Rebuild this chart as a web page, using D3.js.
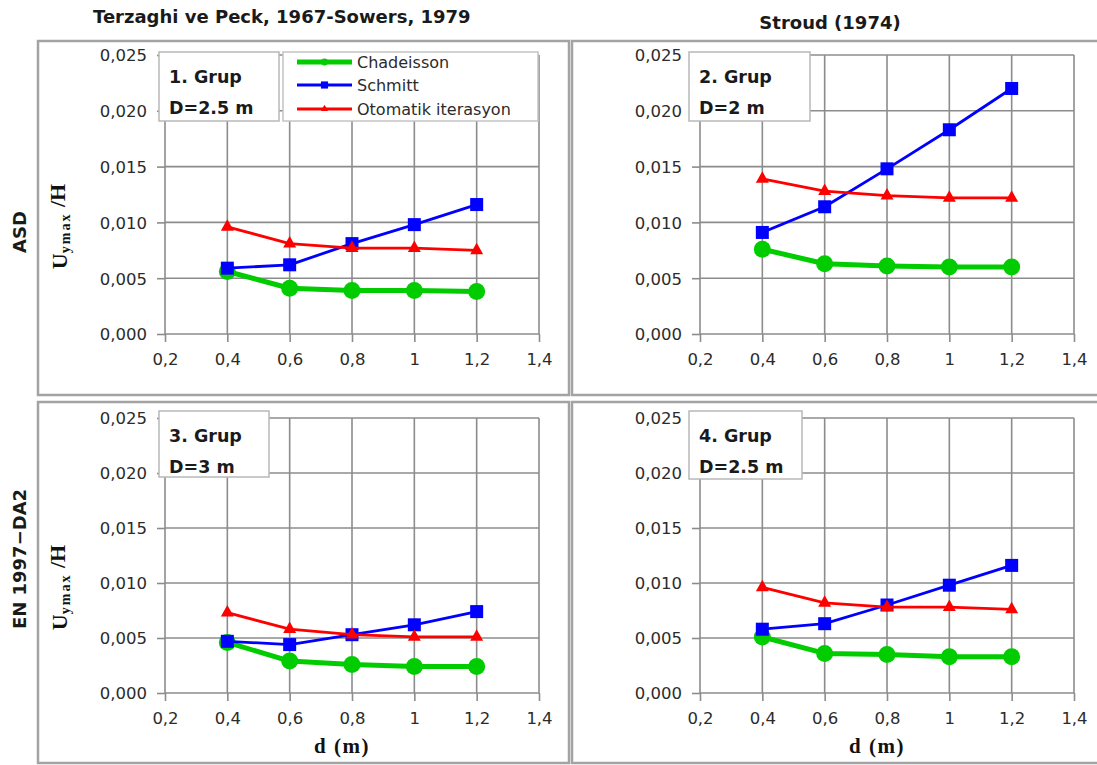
<!DOCTYPE html>
<html>
<head>
<meta charset="utf-8">
<script src="https://cdn.jsdelivr.net/npm/d3@7"></script>
<style>
  html, body { margin: 0; padding: 0; background: #fff; }
  svg { display: block; }
</style>
</head>
<body>
<svg id="chart" width="1097" height="765"></svg>
<script>
// d (m) values along the x axis
const dValues = [0.4, 0.6, 0.8, 1.0, 1.2];

// U_ymax / H for each group and method
const chadeisson1 = [0.0056, 0.0041, 0.0039, 0.0039, 0.0038];
const schmitt1    = [0.0059, 0.0062, 0.0081, 0.0098, 0.0116];
const otomatik1   = [0.0096, 0.0081, 0.0077, 0.0077, 0.0075];

const chadeisson2 = [0.0076, 0.0063, 0.0061, 0.0060, 0.0060];
const schmitt2    = [0.0091, 0.0114, 0.0148, 0.0183, 0.0220];
const otomatik2   = [0.0139, 0.0128, 0.0124, 0.0122, 0.0122];

const chadeisson3 = [0.0046, 0.0029, 0.0026, 0.0024, 0.0024];
const schmitt3    = [0.0047, 0.0044, 0.0053, 0.0062, 0.0074];
const otomatik3   = [0.0073, 0.0058, 0.0053, 0.0051, 0.0051];

const chadeisson4 = [0.0051, 0.0036, 0.0035, 0.0033, 0.0033];
const schmitt4    = [0.0058, 0.0063, 0.0080, 0.0098, 0.0116];
const otomatik4   = [0.0096, 0.0082, 0.0078, 0.0078, 0.0076];

const seriesNames = ["Chadeisson", "Schmitt", "Otomatik iterasyon"];
const groupLabels = [["1. Grup", "D=2.5 m"], ["2. Grup", "D=2 m"], ["3. Grup", "D=3 m"], ["4. Grup", "D=2.5 m"]];
const columnTitles = ["Terzaghi ve Peck, 1967-Sowers, 1979", "Stroud (1974)"];
const rowTitles = ["ASD", "EN 1997\u2212DA2"];

const xTicks = [0.2, 0.4, 0.6, 0.8, 1.0, 1.2, 1.4];
const xTickLabels = ["0,2", "0,4", "0,6", "0,8", "1", "1,2", "1,4"];
const yTicks = [0, 0.005, 0.01, 0.015, 0.02, 0.025];
const yTickLabels = ["0,000", "0,005", "0,010", "0,015", "0,020", "0,025"];

const svg = d3.select("#chart");

const colors = { Chadeisson: "#00cc00", Schmitt: "#0000ff", "Otomatik iterasyon": "#ff0000" };
const sansFont = "'DejaVu Sans', sans-serif";
const serifFont = "'Liberation Serif', 'DejaVu Serif', serif";

// layout for each of the four panels
const panels = [
  { frame: [38, 41, 569, 395], plot: [165, 55, 539, 334], box: [159, 52, 279, 121],
    series: [chadeisson1, schmitt1, otomatik1], legend: true, yTitle: true, xTitle: false, labels: groupLabels[0] },
  { frame: [572, 41, 1099, 395], plot: [700, 55, 1074, 334], box: [689, 52, 810, 121],
    series: [chadeisson2, schmitt2, otomatik2], legend: false, yTitle: false, xTitle: false, labels: groupLabels[1] },
  { frame: [38, 402, 569, 763], plot: [165, 418, 539, 693], box: [159, 411, 269, 477],
    series: [chadeisson3, schmitt3, otomatik3], legend: false, yTitle: true, xTitle: true, labels: groupLabels[2] },
  { frame: [572, 402, 1099, 763], plot: [700, 418, 1074, 693], box: [689, 411, 802, 479],
    series: [chadeisson4, schmitt4, otomatik4], legend: false, yTitle: false, xTitle: true, labels: groupLabels[3] }
];

const gridColor = "#8c8c8c";

function marker(g, name, cx, cy, scale) {
  const c = colors[name];
  if (name === "Chadeisson") {
    g.append("circle").attr("cx", cx).attr("cy", cy).attr("r", 8.5 * scale).attr("fill", c);
  } else if (name === "Schmitt") {
    const s = 13 * scale;
    g.append("rect").attr("x", cx - s / 2).attr("y", cy - s / 2).attr("width", s).attr("height", s).attr("fill", c);
  } else {
    const w = 13 * scale, h = 11.5 * scale;
    g.append("path")
      .attr("d", `M${cx - w / 2},${cy + h / 3}L${cx + w / 2},${cy + h / 3}L${cx},${cy - 2 * h / 3}Z`)
      .attr("fill", c);
  }
}

panels.forEach(p => {
  const g = svg.append("g");
  const [fx0, fy0, fx1, fy1] = p.frame;
  g.append("rect").attr("x", fx0).attr("y", fy0).attr("width", fx1 - fx0).attr("height", fy1 - fy0)
    .attr("fill", "#fff").attr("stroke", "#a3a3a3").attr("stroke-width", 2.5);

  const [px0, py0, px1, py1] = p.plot;
  const x = d3.scaleLinear().domain([0.2, 1.4]).range([px0, px1]);
  const y = d3.scaleLinear().domain([0, 0.025]).range([py1, py0]);

  // gridlines
  const grid = g.append("g");
  grid.selectAll("line.h").data(yTicks.slice(1)).join("line")
    .attr("x1", px0).attr("x2", px1).attr("y1", d => y(d)).attr("y2", d => y(d))
    .attr("stroke", gridColor).attr("stroke-width", 1.6);
  grid.selectAll("line.v").data(xTicks.slice(1)).join("line")
    .attr("x1", d => x(d)).attr("x2", d => x(d)).attr("y1", py0).attr("y2", py1)
    .attr("stroke", gridColor).attr("stroke-width", 1.6);

  // axes
  const yAxis = d3.axisLeft(y).tickValues(yTicks).tickSize(8).tickPadding(10)
    .tickFormat((d, i) => yTickLabels[i]);
  const xAxis = d3.axisBottom(x).tickValues(xTicks).tickSize(8).tickPadding(11)
    .tickFormat((d, i) => xTickLabels[i]);

  const ya = g.append("g").attr("transform", `translate(${px0},0)`).call(yAxis);
  const xa = g.append("g").attr("transform", `translate(0,${py1})`).call(xAxis);
  [ya, xa].forEach(a => {
    a.select(".domain").attr("stroke", gridColor).attr("stroke-width", 1.6);
    a.selectAll(".tick line").attr("stroke", gridColor).attr("stroke-width", 1.6);
    a.selectAll(".tick text").attr("fill", "#2b2b2b").style("font-family", sansFont).style("font-size", "16.5px");
  });
  ya.select(".domain").attr("d", `M0,${py0}V${py1}`);
  xa.select(".domain").attr("d", `M${px0},0H${px1}`);
  ya.selectAll(".tick text").attr("dy", "0.36em");
  xa.selectAll(".tick text").attr("dy", "0.72em");

  // series lines and markers: Chadeisson, Schmitt, Otomatik iterasyon
  const widths = [5, 2.8, 2.8];
  p.series.forEach((vals, si) => {
    const name = seriesNames[si];
    const line = d3.line().x((d, i) => x(dValues[i])).y(d => y(d));
    g.append("path").datum(vals).attr("d", line).attr("fill", "none")
      .attr("stroke", colors[name]).attr("stroke-width", widths[si]).attr("stroke-linejoin", "round");
    vals.forEach((v, i) => marker(g, name, x(dValues[i]), y(v), 1));
  });

  // group label box
  const [bx0, by0, bx1, by1] = p.box;
  g.append("rect").attr("x", bx0).attr("y", by0).attr("width", bx1 - bx0).attr("height", by1 - by0)
    .attr("fill", "#fff").attr("stroke", "#b8b8b8").attr("stroke-width", 1.5);
  const lineOffsets = [25, 56];
  p.labels.forEach((t, i) => {
    g.append("text").attr("x", bx0 + 10).attr("y", by0 + lineOffsets[i]).attr("dy", "0.36em")
      .style("font-family", sansFont).style("font-weight", "bold").style("font-size", "17.5px")
      .attr("fill", "#1a1a1a").text(t);
  });

  // legend
  if (p.legend) {
    const lg = g.append("g");
    lg.append("rect").attr("x", 283).attr("y", 52).attr("width", 255).attr("height", 69)
      .attr("fill", "#fff").attr("stroke", "#c4c4c4").attr("stroke-width", 1.5);
    const ly = [62, 85, 109];
    seriesNames.forEach((name, i) => {
      lg.append("line").attr("x1", 297).attr("x2", 352).attr("y1", ly[i]).attr("y2", ly[i])
        .attr("stroke", colors[name]).attr("stroke-width", i === 0 ? 5 : 3);
      marker(lg, name, 324.5, ly[i], i === 0 ? 0.4 : 0.55);
      lg.append("text").attr("x", 357).attr("y", ly[i]).attr("dy", "0.36em")
        .style("font-family", sansFont).style("font-size", "16px").attr("fill", "#2b2b2b").text(name);
    });
  }

  // y-axis title: U_ymax /H
  if (p.yTitle) {
    const cy = (py0 + py1) / 2 + 32;
    const t = g.append("text").attr("transform", `translate(67,${cy}) rotate(-90)`)
      .attr("text-anchor", "middle")
      .style("font-family", serifFont).style("font-weight", "bold").style("font-size", "22px").attr("fill", "#111");
    t.append("tspan").text("U");
    t.append("tspan").attr("dy", "0.22em").style("font-size", "14px").style("letter-spacing", "2px").text("ymax");
    t.append("tspan").attr("dy", "-0.22em").style("white-space", "pre").text(" /H");
  }

  // x-axis title
  if (p.xTitle) {
    g.append("text").attr("x", (px0 + px1) / 2 - 10).attr("y", py1 + 52).attr("dy", "0.36em")
      .attr("text-anchor", "middle")
      .style("font-family", serifFont).style("font-weight", "bold").style("font-size", "21px")
      .style("letter-spacing", "1.5px").attr("fill", "#111").text("d (m)");
  }
});

// column titles
svg.append("text").attr("x", 93).attr("y", 17).attr("dy", "0.36em")
  .style("font-family", sansFont).style("font-weight", "bold").style("font-size", "18px").attr("fill", "#1a1a1a")
  .text(columnTitles[0]);
svg.append("text").attr("x", 830).attr("y", 23).attr("dy", "0.36em").attr("text-anchor", "middle")
  .style("font-family", sansFont).style("font-weight", "bold").style("font-size", "18px").attr("fill", "#1a1a1a")
  .text(columnTitles[1]);

// row titles
[[232, rowTitles[0]], [559, rowTitles[1]]].forEach(([cy, t]) => {
  svg.append("text").attr("transform", `translate(20,${cy}) rotate(-90)`).attr("dy", "0.36em")
    .attr("text-anchor", "middle")
    .style("font-family", sansFont).style("font-weight", "bold").style("font-size", "18px").attr("fill", "#1a1a1a")
    .text(t);
});
</script>
</body>
</html>
